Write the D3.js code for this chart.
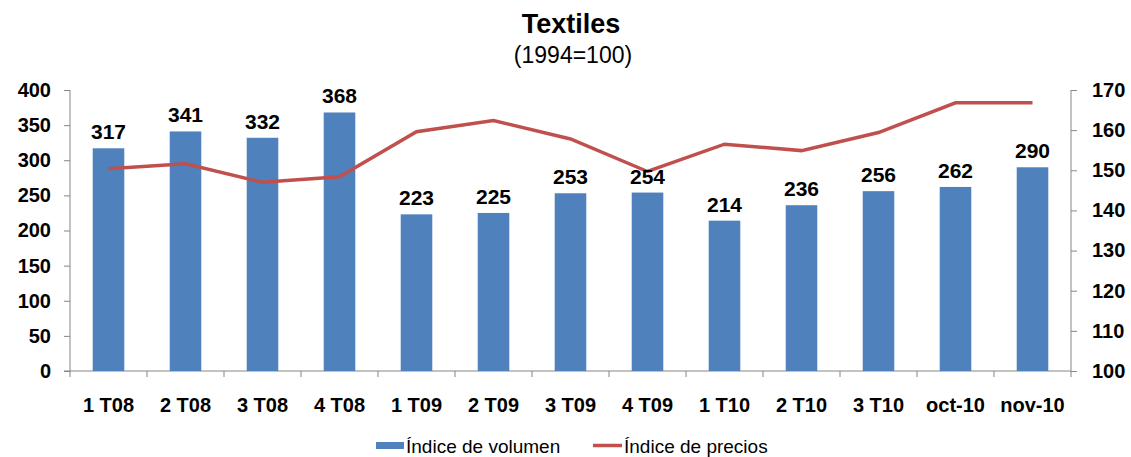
<!DOCTYPE html>
<html>
<head>
<meta charset="utf-8">
<script src="https://cdn.jsdelivr.net/npm/d3@7"></script>
<style>
  body { margin: 0; background: #fff; }
  text { font-family: "Liberation Sans", Arial, sans-serif; }
</style>
</head>
<body>
<div id="chart"></div>
<script>
// Data
var categories = ["1 T08", "2 T08", "3 T08", "4 T08", "1 T09", "2 T09", "3 T09", "4 T09", "1 T10", "2 T10", "3 T10", "oct-10", "nov-10"];
var volumen = [317, 341, 332, 368, 223, 225, 253, 254, 214, 236, 256, 262, 290];
var precios = [150.4, 151.6, 147.0, 148.4, 159.6, 162.4, 157.8, 149.7, 156.5, 154.9, 159.4, 166.8, 166.8];
var leftTicks = [0, 50, 100, 150, 200, 250, 300, 350, 400];
var rightTicks = [100, 110, 120, 130, 140, 150, 160, 170];

var svgWidth = 1131;
var svgHeight = 457;
var margin = { top: 90, right: 60, bottom: 86, left: 70 };
var chartWidth = svgWidth - margin.left - margin.right;
var chartHeight = svgHeight - margin.top - margin.bottom;

var svg = d3.select("#chart")
  .append("svg")
  .attr("width", svgWidth)
  .attr("height", svgHeight);

// Title
svg.append("text")
  .attr("x", 571).attr("y", 33)
  .attr("text-anchor", "middle")
  .style("font-size", "27px").style("font-weight", "bold")
  .text("Textiles");
svg.append("text")
  .attr("x", 573).attr("y", 63)
  .attr("text-anchor", "middle")
  .style("font-size", "23px")
  .text("(1994=100)");

var chartGroup = svg.append("g")
  .attr("transform", `translate(${margin.left}, ${margin.top})`);

var xScale = d3.scaleBand()
  .domain(categories)
  .range([0, chartWidth])
  .paddingInner(0.59)
  .paddingOuter(0.295);

var xBand = d3.scaleBand().domain(categories).range([0, chartWidth]);

var yLeft = d3.scaleLinear().domain([0, 400]).range([chartHeight, 0]);
var yRight = d3.scaleLinear().domain([100, 170]).range([chartHeight, 0]);

var axisColor = "#868686";

// Left axis
var leftAxis = d3.axisLeft(yLeft).tickValues(leftTicks).tickSize(6).tickPadding(13);
var gl = chartGroup.append("g").call(leftAxis);
gl.select(".domain").remove();
gl.append("line").attr("x1", 0).attr("x2", 0).attr("y1", 0).attr("y2", chartHeight).attr("stroke", axisColor);
gl.selectAll(".tick line").attr("stroke", axisColor);
gl.selectAll(".tick text").style("font-size", "20px").style("font-weight", "bold").attr("fill", "#000");

// Right axis
var rightAxis = d3.axisRight(yRight).tickValues(rightTicks).tickSize(6).tickPadding(15);
var gr = chartGroup.append("g").attr("transform", `translate(${chartWidth}, 0)`).call(rightAxis);
gr.select(".domain").remove();
gr.append("line").attr("x1", 0).attr("x2", 0).attr("y1", 0).attr("y2", chartHeight).attr("stroke", axisColor);
gr.selectAll(".tick line").attr("stroke", axisColor);
gr.selectAll(".tick text").style("font-size", "20px").style("font-weight", "bold").attr("fill", "#000");

// Bottom axis line and ticks at category boundaries
var gb = chartGroup.append("g").attr("transform", `translate(0, ${chartHeight})`);
gb.append("line").attr("x1", -6).attr("x2", chartWidth).attr("y1", 0).attr("y2", 0).attr("stroke", axisColor);
gb.selectAll("line.bt")
  .data(categories.concat(["end"]))
  .enter().append("line")
  .attr("class", "bt")
  .attr("x1", (d, i) => i < categories.length ? xBand(d) : chartWidth)
  .attr("x2", (d, i) => i < categories.length ? xBand(d) : chartWidth)
  .attr("y1", 0).attr("y2", 6)
  .attr("stroke", axisColor);
gb.selectAll("text.cat")
  .data(categories)
  .enter().append("text")
  .attr("class", "cat")
  .attr("x", d => xBand(d) + xBand.bandwidth() / 2)
  .attr("y", 41)
  .attr("text-anchor", "middle")
  .style("font-size", "20px").style("font-weight", "bold")
  .text(d => d);

// Bars
chartGroup.selectAll("rect.bar")
  .data(volumen)
  .enter().append("rect")
  .attr("class", "bar")
  .attr("x", (d, i) => xScale(categories[i]))
  .attr("y", d => yLeft(d))
  .attr("width", xScale.bandwidth())
  .attr("height", d => chartHeight - yLeft(d))
  .attr("fill", "#4F81BD");

// Line
var line = d3.line()
  .x((d, i) => xBand(categories[i]) + xBand.bandwidth() / 2)
  .y(d => yRight(d));
chartGroup.append("path")
  .datum(precios)
  .attr("d", line)
  .attr("fill", "none")
  .attr("stroke", "#C0504D")
  .attr("stroke-width", 3.5);

// Value labels
chartGroup.selectAll("text.val")
  .data(volumen)
  .enter().append("text")
  .attr("class", "val")
  .attr("x", (d, i) => xBand(categories[i]) + xBand.bandwidth() / 2)
  .attr("y", d => yLeft(d) - 9)
  .attr("text-anchor", "middle")
  .style("font-size", "21px").style("font-weight", "bold")
  .text(d => d);

// Legend
var legend = svg.append("g");
legend.append("rect").attr("x", 376).attr("y", 442).attr("width", 28).attr("height", 7).attr("fill", "#4F81BD");
legend.append("text").attr("x", 406).attr("y", 453).style("font-size", "19px").text("Índice de volumen");
legend.append("line").attr("x1", 593).attr("x2", 622).attr("y1", 445.5).attr("y2", 445.5).attr("stroke", "#C0504D").attr("stroke-width", 3.5);
legend.append("text").attr("x", 624).attr("y", 453).style("font-size", "19px").text("Índice de precios");
</script>
</body>
</html>
